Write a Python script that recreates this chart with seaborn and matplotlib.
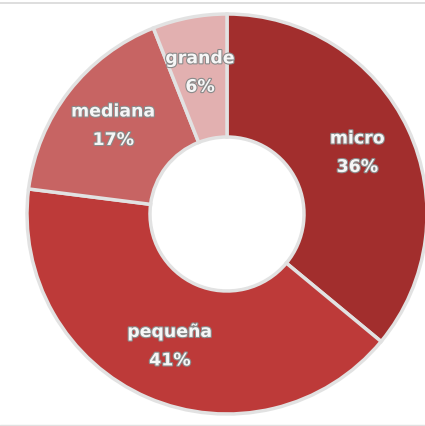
import matplotlib
matplotlib.use("Agg")
import matplotlib.pyplot as plt
import matplotlib.patheffects as pe
import numpy as np
import seaborn as sns

# Data
categories = ["micro", "pequeña", "mediana", "grande"]
shares = [36, 41, 17, 6]
colors = ["#a22e2d", "#bd3a39", "#c76463", "#e2b0b0"]

sns.set_theme(style="white")
plt.rcParams['font.family'] = ['DejaVu Sans']

fig = plt.figure(figsize=(4.25, 4.26), dpi=100)
fig.patch.set_facecolor("white")
ax = fig.add_axes([27 / 425, 12 / 426, 400 / 425, 400 / 426])

wedges, _ = ax.pie(
    shares,
    colors=colors,
    startangle=90,
    counterclock=False,
    radius=1.0,
    wedgeprops=dict(width=0.615, edgecolor="#e2e2e2", linewidth=2.5),
)

# Labels at the middle of each ring segment
for w, name, val in zip(wedges, categories, shares):
    ang = np.deg2rad((w.theta1 + w.theta2) / 2)
    r = 0.72
    ax.text(r * np.cos(ang), r * np.sin(ang), f"{name}\n{val}%",
            ha="center", va="center", fontsize=12.5, fontweight="bold",
            color="#f6f6f6", linespacing=1.75,
            path_effects=[pe.withStroke(linewidth=1.6, foreground="#8a8a8a")])

ax.set_xlim(-1, 1)
ax.set_ylim(-1, 1)
ax.set_aspect("equal")
ax.axis("off")

# thin frame lines at top and bottom like the source screenshot
fig.add_artist(plt.Line2D([0, 1], [1 - 3 / 426, 1 - 3 / 426], color="#d8d8d8", lw=1.2))
fig.add_artist(plt.Line2D([0, 1], [1 / 426, 1 / 426], color="#e0e0e0", lw=1.0))

plt.savefig("out.png", dpi=100, facecolor="white")
